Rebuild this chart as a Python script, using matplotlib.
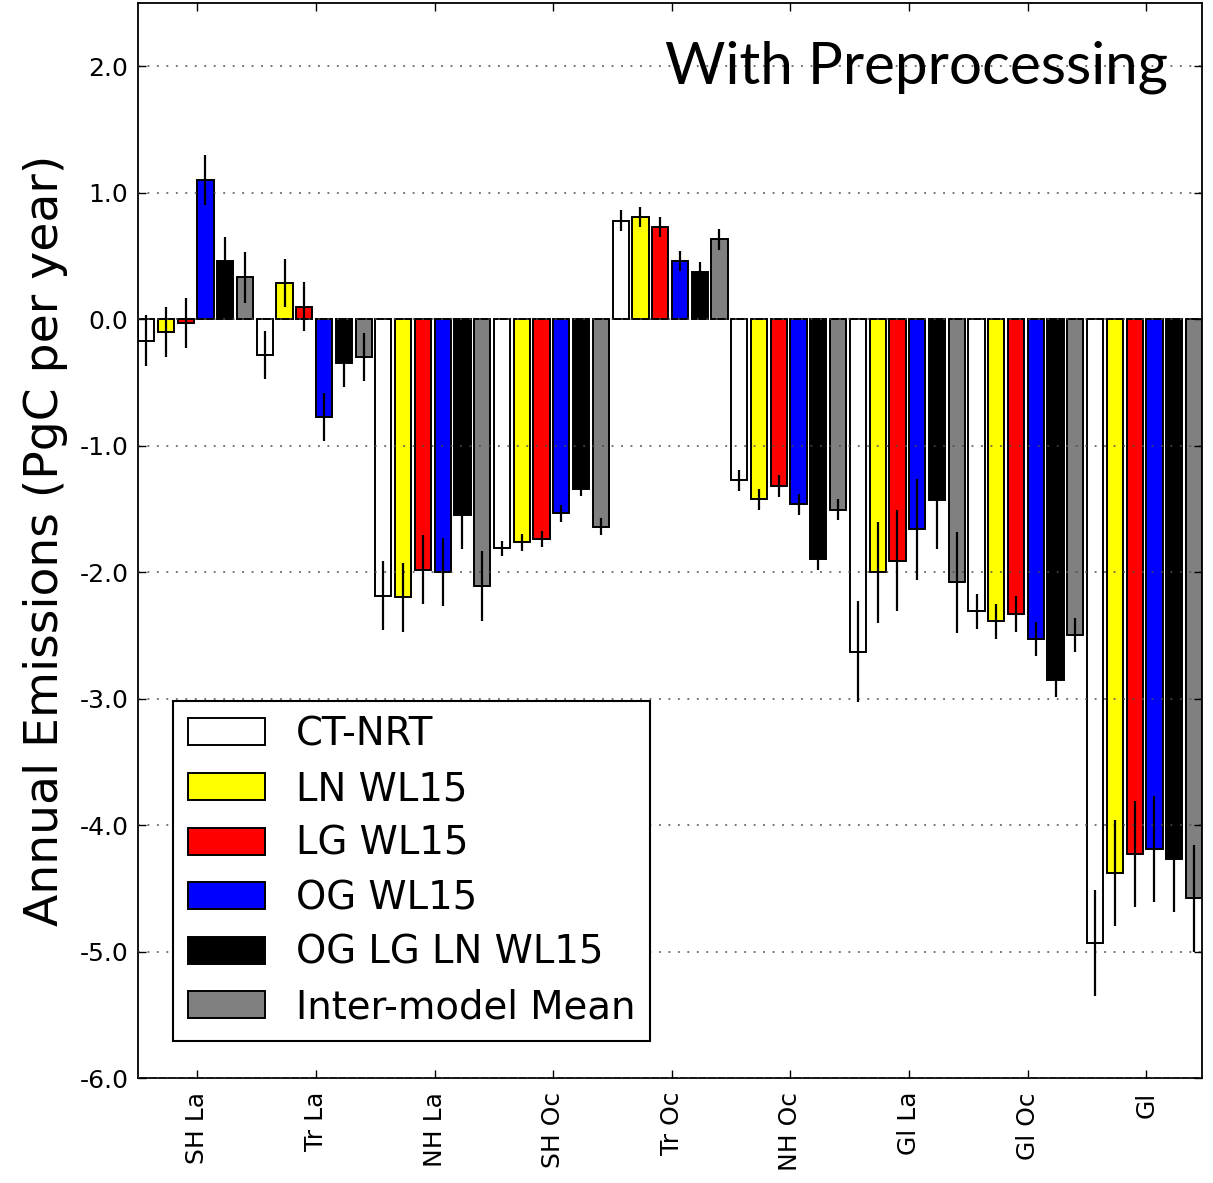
import numpy as np
import matplotlib
matplotlib.use('Agg')
import matplotlib.pyplot as plt

# regions on the x axis
regioes = ['SH La', 'Tr La', 'NH La', 'SH Oc', 'Tr Oc', 'NH Oc', 'Gl La', 'Gl Oc', 'Gl']

# annual flux per model (PgC per year) and its uncertainty
ct_nrt = [-0.17, -0.285, -2.185, -1.81, 0.78, -1.275, -2.63, -2.31, -4.93]
ct_nrt_err = [0.20, 0.19, 0.27, 0.06, 0.08, 0.085, 0.40, 0.14, 0.42]

ln_wl15 = [-0.10, 0.285, -2.20, -1.765, 0.81, -1.425, -2.00, -2.39, -4.38]
ln_wl15_err = [0.20, 0.19, 0.27, 0.065, 0.08, 0.085, 0.40, 0.14, 0.42]

lg_wl15 = [-0.03, 0.10, -1.98, -1.74, 0.73, -1.32, -1.91, -2.33, -4.23]
lg_wl15_err = [0.20, 0.19, 0.27, 0.065, 0.08, 0.085, 0.40, 0.14, 0.42]

og_wl15 = [1.10, -0.77, -2.00, -1.535, 0.46, -1.465, -1.66, -2.53, -4.19]
og_wl15_err = [0.20, 0.19, 0.27, 0.065, 0.08, 0.085, 0.40, 0.135, 0.42]

oglgln_wl15 = [0.46, -0.35, -1.55, -1.34, 0.37, -1.90, -1.43, -2.85, -4.27]
oglgln_wl15_err = [0.19, 0.19, 0.27, 0.06, 0.08, 0.08, 0.39, 0.135, 0.42]

media = [0.33, -0.30, -2.11, -1.64, 0.63, -1.505, -2.08, -2.50, -4.58]
media_err = [0.20, 0.19, 0.28, 0.065, 0.08, 0.085, 0.40, 0.135, 0.42]

nomes = ['CT-NRT', 'LN WL15', 'LG WL15', 'OG WL15', 'OG LG LN WL15', 'Inter-model Mean']
cores = ['white', 'yellow', 'red', 'blue', 'black', 'gray']


def desenhar():
    plt.rcParams['axes.unicode_minus'] = False
    fig = plt.figure(figsize=(12.13, 11.83), dpi=100)
    ax = fig.add_axes([0.1138, 0.0887, 0.8772, 0.9088])

    series = [ct_nrt, ln_wl15, lg_wl15, og_wl15, oglgln_wl15, media]
    erros = [ct_nrt_err, ln_wl15_err, lg_wl15_err, og_wl15_err, oglgln_wl15_err, media_err]

    nb = len(series)
    ind = np.arange(len(regioes)) * nb
    largura = 0.82

    for k in range(nb):
        x = ind + k
        ax.bar(x, series[k], largura, align='edge', color=cores[k],
               edgecolor='black', linewidth=1.4, label=nomes[k], zorder=1)
        ax.errorbar(x + largura / 2, series[k], yerr=erros[k], fmt='none',
                    ecolor='black', elinewidth=1.6, capsize=0, zorder=3)

    ax.set_xlim(0, len(regioes) * nb - (1 - largura))
    ax.set_ylim(-6, 2.5)
    ax.set_yticks(np.arange(-6, 3, 1))
    ax.set_yticklabels(['%.1f' % v for v in np.arange(-6, 3, 1)])
    ax.set_xticks(ind + 3)
    ax.set_xticklabels(regioes, rotation=90)

    ax.yaxis.grid(True, linestyle=(0, (1.2, 5)), color='0.3', linewidth=1.1, zorder=2)
    ax.set_axisbelow(False)

    ax.tick_params(direction='in', top=True, right=True, length=6, width=1,
                   labelsize=18)
    ax.tick_params(axis='y', pad=7)
    ax.tick_params(axis='x', pad=10)
    for s in ax.spines.values():
        s.set_linewidth(1.3)

    ax.set_ylabel('Annual Emissions (PgC per year)', fontsize=34)
    ax.yaxis.set_label_coords(-0.066, 0.5)

    ax.text(0.968, 0.9247, 'With Preprocessing', transform=ax.transAxes,
            ha='right', va='baseline', fontsize=42, family='Lato')

    leg = ax.legend(loc='lower left', bbox_to_anchor=(0.0329, 0.0344), borderaxespad=0,
                    fontsize=27.8, fancybox=False, edgecolor='black', framealpha=1,
                    handlelength=2.0, handleheight=0.7, handletextpad=0.8,
                    labelspacing=0.43, borderpad=0.38)
    leg.get_frame().set_linewidth(1.5)

    fig.savefig('out.png', dpi=100)


def main():
    desenhar()


if __name__ == "__main__":
    main()
